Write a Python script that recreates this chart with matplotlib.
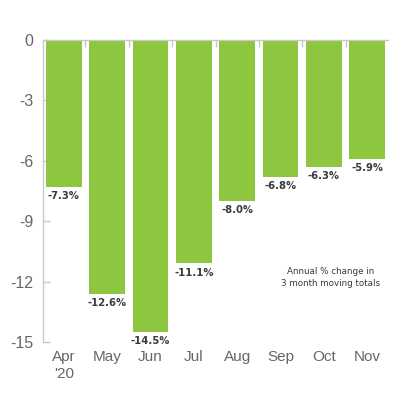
import matplotlib
matplotlib.use('Agg')
import matplotlib.pyplot as plt
import numpy as np

months = ['Apr\n\'20', 'May', 'Jun', 'Jul', 'Aug', 'Sep', 'Oct', 'Nov']
change = [-7.3, -12.6, -14.5, -11.1, -8.0, -6.8, -6.3, -5.9]
y_ticks = [0, -3, -6, -9, -12, -15]

GREEN = '#8dc63f'
AXIS_GREY = '#c8c8c8'
TEXT_GREY = '#666666'
LABEL_FONT = ['Liberation Sans Narrow', 'DejaVu Sans']

fig = plt.figure(figsize=(4, 4), dpi=100)
ax = fig.add_axes([0.1075, 0.145, 0.8625, 0.755])

x = np.arange(len(months))
ax.bar(x, change, width=0.83, color=GREEN, zorder=2)

for xi, v in zip(x, change):
    ax.text(xi, v - 0.2, f'{v:.1f}%', ha='center', va='top',
            fontsize=7.2, fontweight='bold', color='#3a3a3a',
            family=LABEL_FONT)

ax.text(6.15, -11.8, 'Annual % change in\n3 month moving totals',
        ha='center', va='center', fontsize=6.3, color='#3a3a3a',
        family=LABEL_FONT, linespacing=1.45)

ax.set_xlim(-0.48, len(months) - 0.52)
ax.set_ylim(-15, 0)

ax.set_xticks(x)
ax.set_xticklabels(months, family=['Liberation Sans', 'DejaVu Sans'])
ax.set_xticks(x[:-1] + 0.5, minor=True)
ax.tick_params(axis='x', which='major', length=0, pad=6,
               labelsize=11, labelcolor=TEXT_GREY)
ax.tick_params(axis='x', which='minor', bottom=False, top=True,
               direction='in', length=5, color=AXIS_GREY, width=1)

ax.set_yticks(y_ticks)
ax.set_yticklabels([str(t) for t in y_ticks],
                   family=['Liberation Sans', 'DejaVu Sans'])
ax.tick_params(axis='y', direction='in', length=5, color=AXIS_GREY,
               width=1, pad=7, labelsize=11.5, labelcolor=TEXT_GREY)

for side in ('right', 'bottom'):
    ax.spines[side].set_visible(False)
for side in ('left', 'top'):
    ax.spines[side].set_color(AXIS_GREY)
    ax.spines[side].set_linewidth(1)

fig.savefig('out.png', dpi=100)
